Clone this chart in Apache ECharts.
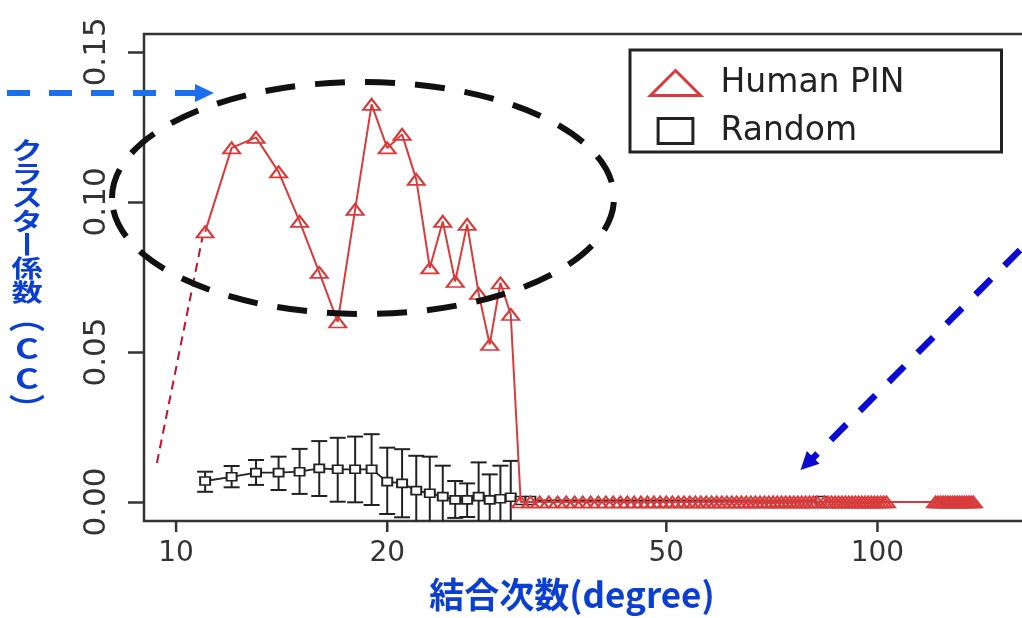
<!DOCTYPE html>
<html><head><meta charset="utf-8">
<script src="https://cdn.jsdelivr.net/npm/echarts@6/dist/echarts.min.js"></script>
<style>html,body{margin:0;padding:0;background:#fff}#c{width:1022px;height:618px}</style>
</head><body><div id="c"></div>
<script>
// ---- data ----
const xTicks = [10, 20, 50, 100];
const yTicks = [0, 0.05, 0.10, 0.15];

const humanDegrees = [11,12,13,14,15,16,17,18,19,20,21,22,23,24,25,26,27,28,29,30,
  31,32,33,34,35,36,37,38,39,40,41,42,43,44,45,46,47,48,49,50,51,52,53,54,55,56,57,58,59,60,
  61,62,63,64,65,66,67,68,69,70,71,72,73,74,75,76,77,78,79,80,81,82,
  84,85,86,87,88,89,90,91,92,93,94,95,96,97,98,99,100,101,102,103,
  121,122,123,124,125,126,127,128,129,130,131,132,133,134,135,136,137];
const humanCC = [0.090,0.118,0.1215,0.110,0.0935,0.0765,0.060,0.0975,0.1325,0.118,
  0.1225,0.1075,0.078,0.0935,0.0735,0.0925,0.0695,0.0525,0.073,0.0625,
  0,0,0,0,0,0,0,0,0,0,0,0,0,0,0,0,0,0,0,0,0,0,0,0,0,0,0,0,0,0,
  0,0,0,0,0,0,0,0,0,0,0,0,0,0,0,0,0,0,0,0,0,0,
  0,0,0,0,0,0,0,0,0,0,0,0,0,0,0,0,0,0,0,0,
  0,0,0,0,0,0,0,0,0,0,0,0,0,0,0,0,0];

const randomDegrees = [11,12,13,14,15,16,17,18,19,20,21,22,23,24,25,26,27,28,29,30,31,32,83];
const randomCC    = [0.0070,0.0084,0.0098,0.0098,0.0101,0.0112,0.0109,0.0109,0.0109,0.0068,
  0.0062,0.0038,0.0029,0.0018,0.0007,0.0007,0.0018,0.0007,0.0011,0.0016,0.0005,0.0005,0.0005];
const randomUpper = [0.0101,0.0120,0.0140,0.0151,0.0177,0.0203,0.0214,0.0218,0.0226,0.0181,
  0.0176,0.0154,0.0151,0.0121,0.0070,0.0062,0.0132,0.0092,0.0121,0.0137,0.0005,0.0005,0.0005];
const randomLower = [0.0034,0.0049,0.0057,0.0040,0.0027,0.0020,0.0001,-0.0001,-0.0010,-0.0040,
  -0.0051,-0.0080,-0.0080,-0.0080,-0.0053,-0.0050,-0.0080,-0.0080,-0.0080,-0.0080,0.0005,0.0005,0.0005];

const trendDegrees = [9.39, 10.9];
const trendCC = [0.013, 0.088];

// ---- chart ----
const RED = '#d83b3b';
const DARK = '#222';
const BLUE_TXT = '#0b3fd0';
const CJK = '"Noto Sans CJK JP", sans-serif';

const chart = echarts.init(document.getElementById('c'), null, {renderer: 'canvas'});

chart.setOption({
  animation: false,
  backgroundColor: '#fff',
  grid: {left: 144, top: 34, width: 886, height: 487, show: true, borderColor: '#333', borderWidth: 2.5,
         backgroundColor: 'transparent', containLabel: false, outerBoundsMode: 'none'},
  legend: {
    left: 630, top: 50, orient: 'vertical', selectedMode: false,
    padding: [15, 21, 3, 19], itemWidth: 50, itemHeight: 25, itemGap: 12,
    borderColor: '#222', borderWidth: 3, backgroundColor: '#fff',
    symbolKeepAspect: true,
    textStyle: {fontFamily: 'DejaVu Sans', fontSize: 33, color: '#222', width: 260, lineHeight: 36, padding: [0,0,0,15]},
    data: [
      {name: 'Human PIN', icon: 'triangle', itemStyle: {color: '#fff', borderColor: RED, borderWidth: 3}},
      {name: 'Random', icon: 'path://M0,0L32,0L32,23L0,23Z', itemStyle: {color: '#fff', borderColor: '#222', borderWidth: 3}}
    ]
  },
  xAxis: {
    type: 'log', logBase: 10, min: 9, max: 165,
    axisLine: {show: false},
    splitLine: {show: false},
    axisTick: {show: false},
    axisLabel: {customValues: xTicks, fontFamily: 'DejaVu Sans', fontSize: 28, color: '#333', margin: 19},
    name: '結合次数(degree)', nameLocation: 'middle', nameGap: 56, nameMoveOverlap: false,
    nameTextStyle: {fontFamily: CJK, fontWeight: 'bold', fontSize: 35, color: BLUE_TXT, padding: [0, 30, 0, 0]}
  },
  yAxis: {
    type: 'value', min: -0.00633, max: 0.15595,
    axisLine: {show: false},
    splitLine: {show: false},
    axisTick: {show: true, customValues: yTicks, length: 16, lineStyle: {color: '#333', width: 2.5}},
    axisLabel: {customValues: yTicks, rotate: 90, align: 'center', verticalAlign: 'bottom', margin: 32,
                fontFamily: 'DejaVu Sans', fontSize: 31, color: '#333', formatter: v => Number(v).toFixed(2)}
  },
  series: [
    {
      name: 'xTicks', type: 'custom', silent: true, z: 5,
      data: xTicks.map(v => [v, 0]),
      encode: {x: 0, y: 1},
      renderItem: function (params, api) {
        const p = api.coord([api.value(0), 0]);
        const cs = params.coordSys;
        const yb = cs.y + cs.height;
        return {type: 'line', shape: {x1: p[0], y1: yb, x2: p[0], y2: yb + 11},
                style: {stroke: '#333', lineWidth: 2.5}};
      }
    },
    {
      name: 'trend', type: 'line', silent: true, z: 1,
      data: trendDegrees.map((d, i) => [d, trendCC[i]]),
      symbol: 'none', lineStyle: {color: '#c8102e', width: 2, type: [9, 6]}
    },
    {
      name: 'RandomErr', type: 'custom', z: 2, silent: true,
      data: randomDegrees.map((d, i) => [d, randomLower[i], randomUpper[i]]),
      encode: {x: 0, y: [1, 2]},
      renderItem: function (params, api) {
        const x = api.value(0), lo = api.value(1), hi = api.value(2);
        if (hi === lo) return null;
        const pT = api.coord([x, hi]);
        const pB = api.coord([x, lo]);
        const cs = params.coordSys;
        const yMax = cs.y + cs.height;
        const by = Math.min(pB[1], yMax);
        const st = {stroke: DARK, lineWidth: 2};
        const ch = [
          {type: 'line', shape: {x1: pT[0], y1: pT[1], x2: pT[0], y2: by}, style: st},
          {type: 'line', shape: {x1: pT[0] - 8, y1: pT[1], x2: pT[0] + 8, y2: pT[1]}, style: st}
        ];
        if (pB[1] <= yMax) ch.push({type: 'line', shape: {x1: pB[0] - 8, y1: pB[1], x2: pB[0] + 8, y2: pB[1]}, style: st});
        return {type: 'group', children: ch};
      }
    },
    {
      name: 'Random', type: 'line', z: 3,
      data: randomDegrees.map((d, i) => [d, randomCC[i]]),
      showAllSymbol: true, symbol: 'rect', symbolSize: [10, 8],
      itemStyle: {color: '#fff', borderColor: DARK, borderWidth: 1.8},
      lineStyle: {color: DARK, width: 1.8}
    },
    {
      name: 'Human PIN', type: 'line', z: 4,
      data: humanDegrees.map((d, i) => [d, humanCC[i]]),
      showAllSymbol: true, symbol: 'triangle', symbolSize: [17, 11],
      itemStyle: {color: 'rgba(255,255,255,0)', borderColor: RED, borderWidth: 2},
      lineStyle: {color: RED, width: 2}
    }
  ],
  graphic: [
    {type: 'ellipse', z: 100, silent: true, shape: {cx: 363, cy: 198, rx: 251, ry: 116},
     style: {fill: null, stroke: '#111', lineWidth: 6, lineDash: [30, 20]}},
    {type: 'line', z: 100, silent: true, shape: {x1: 7, y1: 93, x2: 196, y2: 93},
     style: {stroke: '#1a6ff0', lineWidth: 6, lineDash: [23, 19]}},
    {type: 'polygon', z: 100, silent: true, shape: {points: [[195, 84], [214, 93], [195, 102]]},
     style: {fill: '#1a6ff0'}},
    {type: 'line', z: 100, silent: true, shape: {x1: 1020, y1: 250, x2: 812, y2: 459},
     style: {stroke: '#0a0ad2', lineWidth: 6.5, lineDash: [22, 19]}},
    {type: 'polygon', z: 100, silent: true, shape: {points: [[800.5, 470], [819.6, 463.7], [806.8, 450.9]]},
     style: {fill: '#0a0ad2'}},
    {type: 'text', z: 100, silent: true, x: 27, y: 138, scaleX: 1.3,
     style: {text: 'ク\nラ\nス\nタ\n丨\n係\n数', x: 0, y: 0, align: 'center', verticalAlign: 'top',
             fontFamily: CJK, fontWeight: 'bold', fontSize: 24, lineHeight: 23.6, fill: BLUE_TXT}},
    {type: 'text', z: 100, silent: true, x: 27, y: 303, scaleX: 1.3,
     style: {text: '︵\nC\nC\n︶', x: 0, y: 0, align: 'center', verticalAlign: 'top',
             fontFamily: CJK, fontWeight: 'bold', fontSize: 28, lineHeight: 30, fill: BLUE_TXT}}
  ]
});
</script>
</body></html>
